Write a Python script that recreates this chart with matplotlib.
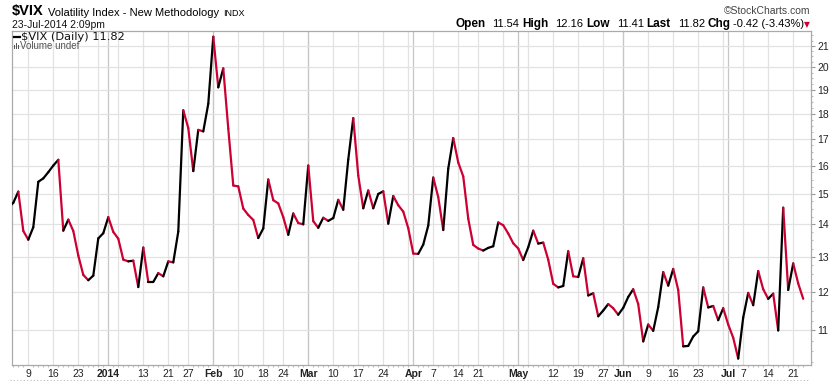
import numpy as np
import pandas as pd
import matplotlib
matplotlib.use('Agg')
import matplotlib.pyplot as plt
from matplotlib.collections import LineCollection
from matplotlib.ticker import FixedLocator, NullFormatter, FuncFormatter
from matplotlib.patches import Rectangle
from matplotlib.lines import Line2D

plt.rcParams['font.family'] = ['Liberation Sans', 'DejaVu Sans']

# trading days shown on the chart
holidays = ['2013-12-25', '2014-01-01', '2014-01-20', '2014-02-17',
            '2014-04-18', '2014-05-26', '2014-07-04']
dates = pd.bdate_range('2013-12-03', '2014-07-23')
dates = dates[~dates.isin(pd.to_datetime(holidays))]

# daily close of $VIX
vix = [14.55, 14.70, 15.08, 13.79, 13.52, 13.91, 15.42, 15.54, 15.76, 16.00,
       16.21, 13.80, 14.15, 13.79, 13.04, 12.48, 12.33, 12.46, 13.56, 13.72,
       14.23, 13.76, 13.55, 12.92, 12.87, 12.89, 12.14, 13.28, 12.28, 12.28,
       12.53, 12.44, 12.87, 12.84, 13.77, 18.14, 17.42, 15.80, 17.35, 17.29,
       18.41, 21.44, 19.11, 19.95, 17.40, 15.29, 15.26, 14.51, 14.30, 14.14,
       13.57, 13.87, 15.50, 14.79, 14.68, 14.23, 13.67, 14.35, 14.04, 14.00,
       16.00, 14.10, 13.89, 14.21, 14.11, 14.20, 14.80, 14.47, 16.22, 17.82,
       15.64, 14.52, 15.12, 14.52, 15.00, 15.09, 14.02, 14.93, 14.62, 14.41,
       13.88, 13.10, 13.09, 13.37, 13.96, 15.57, 14.89, 13.82, 15.89, 17.03,
       16.11, 15.61, 14.18, 13.36, 13.25, 13.19, 13.27, 13.32, 14.06, 13.97,
       13.71, 13.41, 13.25, 12.91, 13.29, 13.80, 13.40, 13.43, 12.92, 12.23,
       12.13, 12.17, 13.17, 12.44, 12.42, 12.96, 11.91, 11.97, 11.36, 11.51,
       11.68, 11.57, 11.40, 11.58, 11.87, 12.08, 11.68, 10.73, 11.15, 10.99,
       11.60, 12.56, 12.18, 12.65, 12.06, 10.61, 10.62, 10.85, 10.98, 12.13,
       11.59, 11.63, 11.26, 11.57, 11.15, 10.82, 10.32, 11.33, 11.98, 11.65,
       12.59, 12.08, 11.82, 11.96, 11.00, 14.54, 12.06, 12.81, 12.24, 11.82]

tick_dates = ['2013-12-09', '2013-12-16', '2013-12-23', '2014-01-02', '2014-01-13',
              '2014-01-21', '2014-01-27', '2014-02-03', '2014-02-10', '2014-02-18',
              '2014-02-24', '2014-03-03', '2014-03-10', '2014-03-17', '2014-03-24',
              '2014-04-01', '2014-04-07', '2014-04-14', '2014-04-21', '2014-05-01',
              '2014-05-12', '2014-05-19', '2014-05-27', '2014-06-02', '2014-06-09',
              '2014-06-16', '2014-06-23', '2014-07-01', '2014-07-07', '2014-07-14',
              '2014-07-21']
tick_labels = ['9', '16', '23', '2014', '13', '21', '27', 'Feb', '10', '18', '24',
               'Mar', '10', '17', '24', 'Apr', '7', '14', '21', 'May', '12', '19',
               '27', 'Jun', '9', '16', '23', 'Jul', '7', '14', '21']
bold_labels = ['2014', 'Feb', 'Mar', 'Apr', 'May', 'Jun', 'Jul']
y_ticks = list(range(11, 22))

W, H = 837, 381
RED = '#cc0033'
fig = plt.figure(figsize=(W / 100, H / 100), dpi=100)
ax = fig.add_axes([11.7 / W, 1 - 365 / H, (810.7 - 11.7) / W, (365 - 31) / H])

idx = np.arange(len(dates))
pos = pd.Series(idx, index=dates)

# grid: weekly light lines, month starts darker
week_first = pos.groupby(dates.to_period('W')).min().values
month_first = pos.groupby(dates.to_period('M')).min().values
for i in week_first:
    ax.axvline(i, color='#e2e2e2', lw=0.9, zorder=0)
for i in month_first:
    ax.axvline(i, color='#c6c6c6', lw=0.9, zorder=0)
for v in y_ticks:
    ax.axhline(v, color='#e2e2e2', lw=0.9, zorder=0)

# up days black, down days red
segs = [[(idx[k - 1], vix[k - 1]), (idx[k], vix[k])] for k in range(1, len(vix))]
cols = ['black' if vix[k] >= vix[k - 1] else RED for k in range(1, len(vix))]
lc = LineCollection(segs, colors=cols, linewidths=1.6, capstyle='round',
                    joinstyle='round', zorder=3)
ax.add_collection(lc)

ax.set_yscale('log')
ax.set_xlim(0.68, 160.5)
ax.set_ylim(10.17, 21.72)

ax.yaxis.tick_right()
ax.yaxis.set_major_locator(FixedLocator(y_ticks))
ax.yaxis.set_major_formatter(FuncFormatter(lambda v, p: '%d' % v))
ax.yaxis.set_minor_locator(FixedLocator(np.arange(10.25, 21.75, 0.25)))
ax.yaxis.set_minor_formatter(NullFormatter())
ax.tick_params(axis='y', which='major', length=3, width=0.8, color='#999999',
               labelsize=7.5, pad=1.5, labelcolor='#222222')
ax.tick_params(axis='y', which='minor', length=1.5, width=0.8, color='#bbbbbb')

tick_pos = [pos[pd.Timestamp(d)] for d in tick_dates]
ax.set_xticks(tick_pos)
ax.set_xticklabels(tick_labels)
for t in ax.get_xticklabels():
    if t.get_text() in bold_labels:
        t.set_fontweight('bold')
ax.xaxis.set_minor_locator(FixedLocator(idx))
ax.tick_params(axis='x', which='major', length=0, labelsize=7.5, pad=3,
               labelcolor='#222222')
ax.tick_params(axis='x', which='minor', length=1.5, width=0.8, color='#bbbbbb')

for s in ax.spines.values():
    s.set_color('#aaaaaa')
    s.set_linewidth(0.9)

fig.add_artist(Line2D([10 / W, 810 / W], [1 - 380 / H, 1 - 380 / H],
                      color='#bbbbbb', lw=0.8, ls=(0, (1, 2))))


def put(x, y, s, **kw):
    # y is the text baseline in pixels from the top
    return fig.text(x / W, 1 - y / H, s, va='baseline', **kw)


def run(x, y, parts, align='left'):
    r = fig.canvas.get_renderer()
    seq = parts if align == 'left' else parts[::-1]
    for s, kw, gap in seq:
        t = put(x, y, s, ha=align, **kw)
        w = t.get_window_extent(renderer=r).width
        x = x + w + gap if align == 'left' else x - w - gap


# header
run(12, 15.5, [('$VIX', dict(fontsize=10.5, fontweight='bold'), 4),
               ('Volatility Index - New Methodology', dict(fontsize=8), 4),
               ('INDX', dict(fontsize=6.5), 0)])
put(12, 28, '23-Jul-2014 2:09pm', fontsize=7.5, color='#111111')
put(810, 14.5, '\u00a9StockCharts.com', fontsize=7.5, color='#444444', ha='right')

B = dict(fontsize=8.5, fontweight='bold')
N = dict(fontsize=8)
run(810, 27, [('Open', B, 3), ('11.54', N, 7), ('High', B, 3), ('12.16', N, 7),
              ('Low', B, 3), ('11.41', N, 7), ('Last', B, 3), ('11.82', N, 7),
              ('Chg', B, 3), ('-0.42 (-3.43%)', N, 2),
              ('\u25bc', dict(fontsize=5.5, color=RED, family='DejaVu Sans'), 0)],
    align='right')

# legend inside plot
fig.add_artist(Line2D([14 / W, 19.5 / W], [1 - 37 / H, 1 - 37 / H],
                      color='black', lw=1.6))
put(21, 40.5, '$VIX (Daily) 11.82', fontsize=8.2, family='DejaVu Sans',
    color='#111111')
for bx, bh in [(14, 3.5), (16, 6), (18, 4.5)]:
    fig.add_artist(Rectangle((bx / W, 1 - 49 / H), 1.4 / W, bh / H,
                             transform=fig.transFigure, color='#555555', lw=0))
put(20.5, 49, 'Volume undef', fontsize=7, color='#555555')

fig.savefig('out.png', dpi=100)
